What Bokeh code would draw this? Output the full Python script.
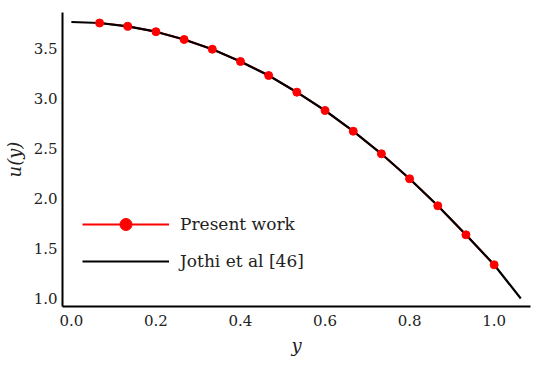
from bokeh.plotting import figure
from bokeh.embed import file_html
from bokeh.resources import INLINE
from bokeh.models import Range1d, FixedTicker, Legend, LegendItem, PrintfTickFormatter

# Data
y_points = [0.0667, 0.1333, 0.2, 0.2667, 0.3333, 0.4, 0.4667, 0.5333,
            0.6, 0.6667, 0.7333, 0.8, 0.8667, 0.9333, 1.0]
u_present = [3.755, 3.722, 3.668, 3.59, 3.493, 3.37, 3.23, 3.063,
             2.88, 2.673, 2.447, 2.197, 1.927, 1.637, 1.337]

y_line = [0.0, 0.0667, 0.1333, 0.2, 0.2667, 0.3333, 0.4, 0.4667, 0.5333,
          0.6, 0.6667, 0.7333, 0.8, 0.8667, 0.9333, 1.0, 1.063]
u_jothi = [3.765, 3.755, 3.722, 3.668, 3.59, 3.493, 3.37, 3.23, 3.063,
           2.88, 2.673, 2.447, 2.197, 1.927, 1.637, 1.337, 1.0]

x_ticks = [0.0, 0.2, 0.4, 0.6, 0.8, 1.0]
y_ticks = [1.0, 1.5, 2.0, 2.5, 3.0, 3.5]

FONT = "DejaVu Serif"

p = figure(width=534, height=358, output_backend="svg", toolbar_location=None,
           x_range=Range1d(-0.021, 1.086), y_range=Range1d(0.92, 3.86),
           min_border_left=54, min_border_right=4, min_border_top=12, min_border_bottom=52)
p.outline_line_color = None
p.xgrid.visible = False
p.ygrid.visible = False

for ax in (p.xaxis[0], p.yaxis[0]):
    ax.axis_line_width = 2
    ax.axis_line_color = "black"
    ax.major_tick_line_color = None
    ax.minor_tick_line_color = None
    ax.major_tick_out = 0
    ax.major_tick_in = 0
    ax.minor_tick_out = 0
    ax.minor_tick_in = 0
    ax.major_label_text_font = FONT
    ax.major_label_text_font_size = "15px"
    ax.major_label_text_color = "#222222"
    ax.axis_label_text_font = FONT
    ax.axis_label_text_font_style = "italic"
    ax.axis_label_text_font_size = "18px"
    ax.axis_label_text_color = "#222222"
    ax.formatter = PrintfTickFormatter(format="%.1f")

p.xaxis.ticker = FixedTicker(ticks=x_ticks)
p.yaxis.ticker = FixedTicker(ticks=y_ticks)
p.xaxis.major_label_standoff = 8
p.yaxis.major_label_standoff = 5
p.xaxis.axis_label = "y"
p.yaxis.axis_label = "u(y)"
p.xaxis.axis_label_standoff = 6
p.yaxis.axis_label_standoff = 6

pl = p.line(y_points, u_present, line_color="red", line_width=2)
jl = p.line(y_line, u_jothi, line_color="black", line_width=2.2)
pc = p.scatter(y_points, u_present, size=8, fill_color="red", line_color="red")

legend = Legend(items=[
    LegendItem(label="Present work", renderers=[pl, pc]),
    LegendItem(label="Jothi et al [46]", renderers=[jl]),
], location=(20, 30))
legend.background_fill_alpha = 0
legend.border_line_color = None
legend.padding = 0
legend.margin = 0
legend.spacing = 7
legend.glyph_width = 87
legend.glyph_height = 30
legend.label_standoff = 11
legend.label_text_font = FONT
legend.label_text_font_size = "17px"
legend.label_text_color = "#222222"
p.add_layout(legend, "center")

open("out.html", "w").write(file_html(p, INLINE))
